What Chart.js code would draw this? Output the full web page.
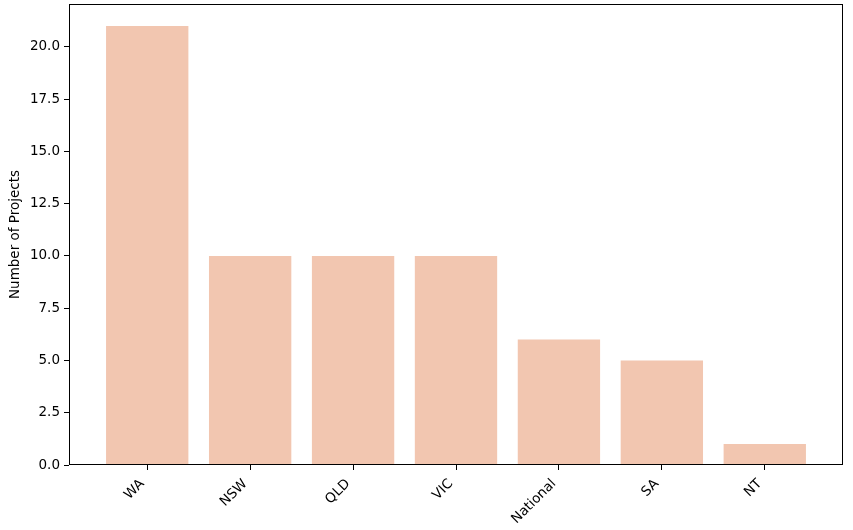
<!DOCTYPE html>
<html>
<head>
<meta charset="utf-8">
<script src="https://cdn.jsdelivr.net/npm/chart.js@4"></script>
<style>
  html, body { margin: 0; padding: 0; background: #ffffff; }
  #wrap { width: 853px; height: 530px; position: relative; }
</style>
</head>
<body>
<div id="wrap"><canvas id="projects-chart"></canvas></div>
<script>
// Chart data
const categories = ['WA', 'NSW', 'QLD', 'VIC', 'National', 'SA', 'NT'];
const projectCounts = [21, 10, 10, 10, 6, 5, 1];
const yTicks = [0, 2.5, 5, 7.5, 10, 12.5, 15, 17.5, 20];

document.addEventListener('DOMContentLoaded', () => {

    const ctx = document.getElementById('projects-chart').getContext('2d');

    // full box around the plot area, like matplotlib spines
    const frame = {
        id: 'frame',
        afterDraw(chart) {
            const a = chart.chartArea;
            const c = chart.ctx;
            c.save();
            c.strokeStyle = '#000000';
            c.lineWidth = 1;
            c.strokeRect(Math.round(a.left) + 0.5, Math.round(a.top) + 0.5,
                Math.round(a.right - a.left) - 1, Math.round(a.bottom - a.top) - 1);
            c.restore();
        }
    };

    const font = { family: 'DejaVu Sans', size: 13.5 };

    new Chart(ctx, {
        type: 'bar',
        data: {
            datasets: [{
                label: 'Number of Projects',
                data: projectCounts.map((v, i) => ({ x: i, y: v })),
                backgroundColor: '#f2c6b0',
                borderWidth: 0,
                barPercentage: 0.8,
                categoryPercentage: 1.0
            }]
        },
        options: {
            responsive: true,
            maintainAspectRatio: false,
            animation: false,
            layout: { padding: { top: 4, right: 10, left: 0, bottom: 0 } },
            plugins: {
                legend: { display: false },
                tooltip: { enabled: false }
            },
            scales: {
                x: {
                    type: 'linear',
                    offset: false,
                    min: -0.76,
                    max: categories.length - 1 + 0.76,
                    afterBuildTicks: (scale) => {
                        scale.ticks = categories.map((_, i) => ({ value: i }));
                    },
                    afterFit: (scale) => {
                        scale.height = 65;
                        scale.paddingLeft = 0;
                        scale.paddingRight = 0;
                    },
                    grid: {
                        offset: false,
                        drawOnChartArea: false,
                        drawTicks: true,
                        tickLength: 5,
                        tickColor: '#000000'
                    },
                    border: { display: false },
                    ticks: {
                        color: '#000000',
                        font: font,
                        minRotation: 45,
                        maxRotation: 45,
                        padding: 6,
                        labelOffset: -5,
                        autoSkip: false,
                        callback: (value) => categories[value]
                    }
                },
                y: {
                    min: 0,
                    max: 22.05,
                    afterBuildTicks: (scale) => {
                        scale.ticks = yTicks.map(v => ({ value: v }));
                    },
                    afterFit: (scale) => {
                        scale.width = 69;
                        scale.paddingTop = 0;
                        scale.paddingBottom = 0;
                    },
                    grid: {
                        drawOnChartArea: false,
                        drawTicks: true,
                        tickLength: 5,
                        tickColor: '#000000'
                    },
                    border: { display: false },
                    title: {
                        display: true,
                        text: 'Number of Projects',
                        color: '#000000',
                        font: font,
                        padding: { top: 7, bottom: 2 }
                    },
                    ticks: {
                        color: '#000000',
                        font: font,
                        padding: 4,
                        callback: (value) => Number(value).toFixed(1)
                    }
                }
            }
        },
        plugins: [frame]
    });
});
</script>
</body>
</html>
